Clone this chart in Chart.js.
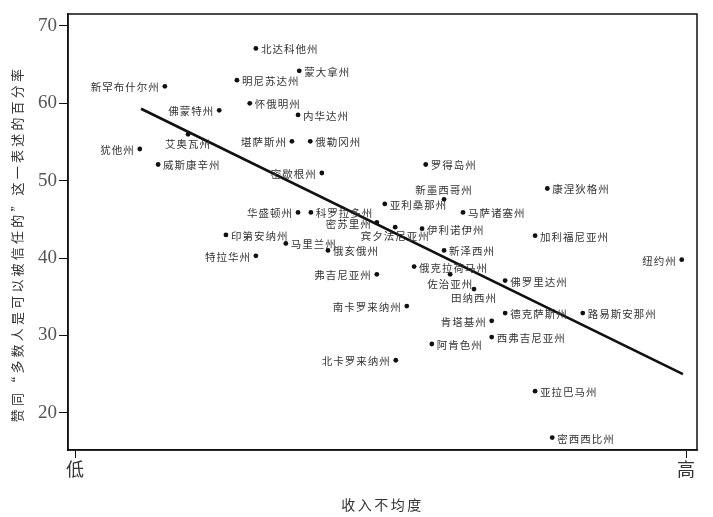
<!DOCTYPE html>
<html>
<head>
<meta charset="utf-8">
<script src="https://cdn.jsdelivr.net/npm/chart.js@4.4.1/dist/chart.umd.min.js"></script>
<style>
  html, body { margin: 0; padding: 0; background: #fff; }
  #wrap { width: 713px; height: 517px; position: relative; }
</style>
</head>
<body>
<div id="wrap"><canvas id="trustChart"></canvas></div>
<script>
/* ── Data ─────────────────────────────────────────────────────────────────── */
const states = [
  '北达科他州', '蒙大拿州', '明尼苏达州', '新罕布什尔州', '怀俄明州', '佛蒙特州',
  '内华达州', '堪萨斯州', '俄勒冈州', '艾奥瓦州', '犹他州', '威斯康辛州',
  '密歇根州', '罗得岛州', '新墨西哥州', '康涅狄格州', '亚利桑那州', '马萨诸塞州',
  '科罗拉多州', '华盛顿州', '密苏里州', '宾夕法尼亚州', '伊利诺伊州', '印第安纳州',
  '加利福尼亚州', '马里兰州', '俄亥俄州', '新泽西州', '特拉华州', '纽约州',
  '俄克拉荷马州', '弗吉尼亚州', '佐治亚州', '田纳西州', '佛罗里达州', '南卡罗来纳州',
  '德克萨斯州', '路易斯安那州', '肯塔基州', '西弗吉尼亚州', '阿肯色州', '北卡罗来纳州',
  '亚拉巴马州', '密西西比州',
];
const inequality = [
  29.6, 36.7, 26.5, 14.7, 28.6, 23.6,
  36.5, 35.5, 38.5, 18.5, 10.6, 13.6,
  40.4, 57.4, 60.4, 77.3, 50.7, 63.5,
  38.6, 36.5, 49.4, 52.4, 56.8, 24.7,
  75.3, 34.5, 41.4, 60.4, 29.6, 99.3,
  55.5, 49.4, 61.4, 65.3, 70.4, 54.3,
  70.4, 83.1, 68.2, 68.2, 58.4, 52.5,
  75.3, 78.1,
];
const trustPct = [
  67.1, 64.2, 63.0, 62.2, 60.0, 59.1,
  58.5, 55.1, 55.1, 56.0, 54.1, 52.1,
  51.0, 52.1, 47.6, 49.0, 47.0, 45.9,
  45.9, 45.9, 44.6, 44.0, 43.8, 43.0,
  42.9, 41.9, 41.0, 41.0, 40.3, 39.8,
  38.9, 37.9, 37.9, 36.0, 37.1, 33.8,
  32.9, 32.9, 31.9, 29.8, 28.9, 26.8,
  22.8, 16.8,
];
// which side of the dot each state name sits: r / l / b(elow) / a(bove)
const labelSide = [
  'r', 'r', 'r', 'l', 'r', 'l',
  'r', 'l', 'r', 'b', 'l', 'r',
  'l', 'r', 'a', 'r', 'r', 'r',
  'r', 'l', 'l', 'b', 'r', 'r',
  'r', 'r', 'r', 'r', 'l', 'l',
  'r', 'l', 'b', 'b', 'r', 'l',
  'r', 'r', 'l', 'r', 'r', 'l',
  'r', 'r',
];
const trendX = [10.8, 99.5];
const trendY = [59.3, 25.0];
const xTickValues = [0, 100];
const xTickLabels = ['低', '高'];
const yTickValues = [20, 30, 40, 50, 60, 70];

const xTitle = '收入不均度';
const yTitle = '赞同“多数人是可以被信任的”这一表述的百分率';

/* ── Plugins ──────────────────────────────────────────────────────────────── */
const frameBox = {
  id: 'frameBox',
  afterDraw(chart) {
    const { ctx, chartArea: a } = chart;
    ctx.save();
    ctx.strokeStyle = '#111';
    ctx.lineWidth = 1.5;
    ctx.strokeRect(a.left, a.top, a.right - a.left, a.bottom - a.top);
    ctx.restore();
  },
};

const stateLabels = {
  id: 'stateLabels',
  afterDatasetsDraw(chart) {
    const { ctx } = chart;
    const meta = chart.getDatasetMeta(0);
    ctx.save();
    ctx.font = '10.5px "Noto Sans CJK SC"';
    ctx.letterSpacing = '1px';
    ctx.fillStyle = '#333';
    meta.data.forEach((pt, i) => {
      const side = labelSide[i];
      const txt = states[i];
      if (side === 'r') {
        ctx.textAlign = 'left'; ctx.textBaseline = 'middle';
        ctx.fillText(txt, pt.x + 5, pt.y + 1);
      } else if (side === 'l') {
        ctx.textAlign = 'right'; ctx.textBaseline = 'middle';
        ctx.fillText(txt, pt.x - 5, pt.y + 1);
      } else if (side === 'b') {
        ctx.textAlign = 'center'; ctx.textBaseline = 'top';
        ctx.fillText(txt, pt.x, pt.y + 4);
      } else {
        ctx.textAlign = 'center'; ctx.textBaseline = 'bottom';
        ctx.fillText(txt, pt.x, pt.y - 4);
      }
    });
    ctx.restore();
  },
};

const axisTitles = {
  id: 'axisTitles',
  afterDraw(chart) {
    const { ctx, chartArea: a } = chart;
    ctx.save();
    ctx.fillStyle = '#333';
    ctx.font = '14px "Noto Sans CJK SC"';
    ctx.letterSpacing = '2.5px';
    ctx.textAlign = 'center';
    ctx.textBaseline = 'middle';
    ctx.fillText(xTitle, (a.left + a.right) / 2, 505);
    ctx.translate(17, 244);
    ctx.rotate(-Math.PI / 2);
    ctx.font = '13px "Noto Sans CJK SC"';
    ctx.letterSpacing = '3.2px';
    ctx.fillText(yTitle, 0, 0);
    ctx.restore();
  },
};

/* ── Chart ────────────────────────────────────────────────────────────────── */
new Chart(document.getElementById('trustChart'), {
  type: 'scatter',
  data: {
    datasets: [
      {
        label: '州',
        data: inequality.map((x, i) => ({ x, y: trustPct[i] })),
        backgroundColor: '#111',
        borderColor: '#111',
        pointRadius: 2.4,
        pointBorderWidth: 0,
      },
      {
        type: 'line',
        label: '趋势',
        data: trendX.map((x, i) => ({ x, y: trendY[i] })),
        borderColor: '#111',
        borderWidth: 2.6,
        pointRadius: 0,
        fill: false,
        tension: 0,
      },
    ],
  },
  options: {
    responsive: true,
    maintainAspectRatio: false,
    animation: false,
    layout: { padding: { top: 14, right: 16, left: 0, bottom: 0 } },
    plugins: { legend: { display: false }, tooltip: { enabled: false } },
    scales: {
      x: {
        type: 'linear',
        min: -1.15,
        max: 101.8,
        afterBuildTicks: s => { s.ticks = xTickValues.map(v => ({ value: v })); },
        afterFit: s => { s.height = 67; },
        ticks: {
          color: '#333',
          font: { family: '"Noto Sans CJK SC"', size: 18 },
          padding: 0,
          maxRotation: 0,
          autoSkip: false,
          callback: v => xTickLabels[xTickValues.indexOf(v)],
        },
        grid: { drawOnChartArea: false, drawTicks: true, tickLength: 8, color: '#111', lineWidth: 1 },
        border: { display: true, color: '#111', width: 1.5 },
      },
      y: {
        type: 'linear',
        min: 15.2,
        max: 71.55,
        afterBuildTicks: s => { s.ticks = yTickValues.map(v => ({ value: v })); },
        afterFit: s => { s.width = 68; },
        ticks: {
          color: '#555',
          font: { family: '"Liberation Serif"', size: 19 },
          padding: 2,
        },
        grid: { drawOnChartArea: false, drawTicks: true, tickLength: 9, color: '#111', lineWidth: 1 },
        border: { display: true, color: '#111', width: 1.5 },
      },
    },
  },
  plugins: [frameBox, stateLabels, axisTitles],
});
</script>
</body>
</html>
